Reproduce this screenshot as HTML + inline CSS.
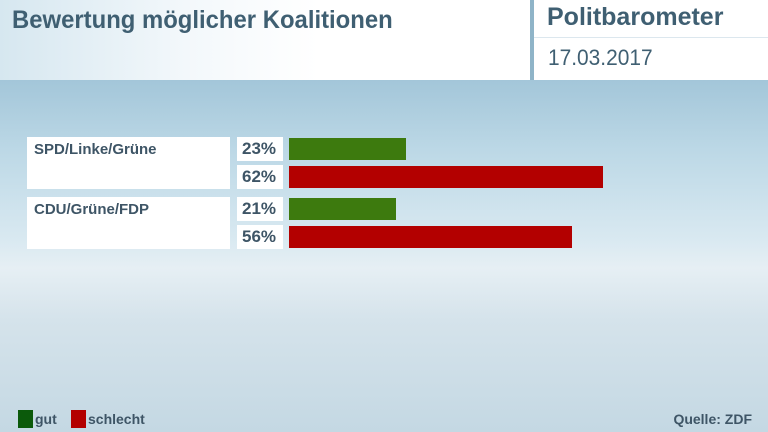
<!DOCTYPE html>
<html><head><meta charset="utf-8"><style>
*{margin:0;padding:0;box-sizing:border-box}
body{width:768px;height:432px;overflow:hidden;position:relative;font-family:"Liberation Sans",sans-serif;
background:linear-gradient(180deg,#a3c6d9 80px,#bcd8e6 150px,#d9e9f1 240px,#e6eff4 268px,#d5e3eb 320px,#c4d8e3 432px);color:#3e5a6c}
.hdr{position:absolute;left:0;top:0;width:530px;height:80px;background:linear-gradient(90deg,#d6e7f0 0,#f3f8fb 35%,#fff 60%)}
.sep{position:absolute;left:530px;top:0;width:4px;height:80px;background:#8fb4c8}
.rb{position:absolute;left:534px;top:0;width:234px;height:80px;background:#fff}
.rl{position:absolute;left:534px;top:37px;width:234px;height:1px;background:#dce7ee}
.t{position:absolute;font-size:25px;font-weight:bold;white-space:nowrap;color:#3f5f72;transform-origin:0 0}
.box{position:absolute;background:#fff}
.lab{font-size:15px;font-weight:bold;padding:4px 0 0 7px;color:#3e5566}
.pct{font-size:17px;font-weight:bold;padding:2px 0 0 5px;color:#3e5566}
.bar{position:absolute;left:289px;height:22px}
.g{background:#3d7a0e}.r{background:#b30000}
.lg{position:absolute;font-size:14px;font-weight:bold;color:#3e5566}
</style></head><body>
<div class="hdr"></div><div class="sep"></div><div class="rb"></div><div class="rl"></div>
<div class="t" style="left:12px;top:6px;transform:scaleX(0.955)">Bewertung möglicher Koalitionen</div>
<div class="t" style="left:547px;top:3px">Politbarometer</div>
<div class="t" style="left:548px;top:45px;font-weight:normal;font-size:22px;transform:scaleX(0.95)">17.03.2017</div>

<div class="box lab" style="left:27px;top:137px;width:203px;height:52px">SPD/Linke/Grüne</div>
<div class="box lab" style="left:27px;top:197px;width:203px;height:52px">CDU/Grüne/FDP</div>
<div class="box pct" style="left:237px;top:137px;width:46px;height:24px">23%</div>
<div class="box pct" style="left:237px;top:165px;width:46px;height:24px">62%</div>
<div class="box pct" style="left:237px;top:197px;width:46px;height:24px">21%</div>
<div class="box pct" style="left:237px;top:225px;width:46px;height:24px">56%</div>
<div class="bar g" style="top:138px;width:117px"></div>
<div class="bar r" style="top:166px;width:314px"></div>
<div class="bar g" style="top:198px;width:107px"></div>
<div class="bar r" style="top:226px;width:283px"></div>

<div style="position:absolute;left:18px;top:410px;width:15px;height:18px;background:#0b5a0b"></div>
<div class="lg" style="left:35px;top:411px">gut</div>
<div style="position:absolute;left:71px;top:410px;width:15px;height:18px;background:#b30000"></div>
<div class="lg" style="left:88px;top:411px">schlecht</div>
<div class="lg" style="right:16px;top:411px">Quelle: ZDF</div>
</body></html>
